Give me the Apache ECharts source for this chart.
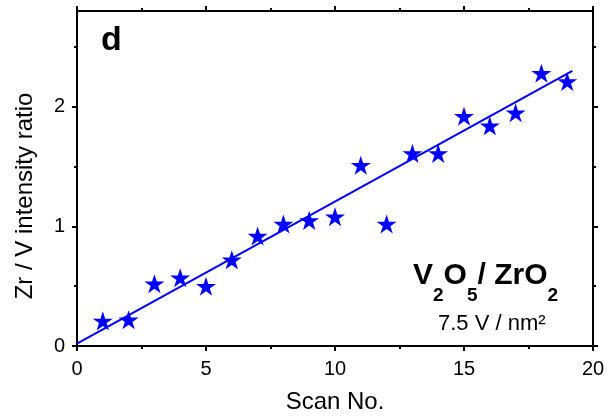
<!DOCTYPE html>
<html>
<head>
<meta charset="utf-8">
<script src="https://cdn.jsdelivr.net/npm/echarts@6/dist/echarts.min.js"></script>
<style>html,body{margin:0;padding:0;background:#fff;}#c{width:609px;height:419px;}</style>
</head>
<body>
<div id="c"></div>
<script>
var scanNo = [1,2,3,4,5,6,7,8,9,10,11,12,13,14,15,16,17,18,19];
var ratio = [0.21,0.22,0.52,0.57,0.50,0.72,0.92,1.02,1.05,1.08,1.51,1.02,1.61,1.61,1.92,1.84,1.95,2.28,2.21];
var fitX = [0, 19.2];
var fitY = [0.02, 2.30];
var yMajor = [0,1,2];
var yMinor = [0.5,1.5,2.5];
var formulaParts = ['V','2','O','5','/ ZrO','2'];
var formulaIsSub = [false,true,false,true,false,true];

var FONT = 'Liberation Sans, Arial, sans-serif';
var BLUE = '#0000ff';
var star = 'path://M100,0 L122.45,69.1 L195.1,69.1 L136.3,111.8 L158.8,180.9 L100,138.2 L41.2,180.9 L63.7,111.8 L4.9,69.1 L77.55,69.1 Z';

var chart = echarts.init(document.getElementById('c'), null, {renderer:'canvas'});
var lineStyle = {color:'#000', width:2};
function xAx(pos, labels) {
  return {
    type:'value', position:pos, min:0, max:20, interval:5,
    axisLine:{show:true, onZero:false, lineStyle:lineStyle},
    axisTick:{show:true, inside:false, length:5, lineStyle:lineStyle},
    minorTick:{show:true, splitNumber:2, length:3, lineStyle:lineStyle},
    splitLine:{show:false},
    axisLabel:{show:labels, fontSize:20, color:'#000', fontFamily:FONT, margin:13},
    name: labels ? 'Scan No.' : '',
    nameLocation:'middle', nameGap:44,
    nameTextStyle:{fontSize:24, color:'#000', fontFamily:FONT}
  };
}
function yAx(pos, vals, len, line, labels) {
  return {
    type:'value', position:pos, min:0, max:2.8, interval:1,
    axisLine:{show:line, onZero:false, lineStyle:lineStyle},
    axisTick:{show:true, inside:false, length:len, lineStyle:lineStyle, customValues:vals},
    splitLine:{show:false},
    axisLabel:{show:labels, fontSize:20, color:'#000', fontFamily:FONT, margin:12, customValues: vals}
  };
}

// formula label pieces, laid out left to right using measured widths
var ctx = document.createElement('canvas').getContext('2d');
var formulaGraphics = [];
var fx = 413;
formulaParts.forEach(function(t, i) {
  var sub = formulaIsSub[i];
  var f = sub ? 'bold 19px ' + FONT : 'bold 30px ' + FONT;
  ctx.font = f;
  formulaGraphics.push({
    type:'text', x:fx, y: sub ? 296 : 276,
    style:{text:t, font:f, fill:'#000', textAlign:'left', textVerticalAlign:'middle'}
  });
  fx += ctx.measureText(t).width;
});

var option = {
  animation:false,
  backgroundColor:'#fff',
  grid:{left:77, right:16, top:11, bottom:66, containLabel:false},
  xAxis:[xAx('bottom', true), xAx('top', false)],
  yAxis:[
    yAx('left', yMajor, 5, true, true),
    yAx('left', yMinor, 3, false, false),
    yAx('right', yMajor, 5, true, false),
    yAx('right', yMinor, 3, false, false)
  ],
  series:[
    {
      type:'line', xAxisIndex:0, yAxisIndex:0,
      data: fitX.map(function(x,i){return [x, fitY[i]];}),
      showSymbol:false, symbol:'none',
      lineStyle:{color:BLUE, width:2}, z:2
    },
    {
      type:'scatter', xAxisIndex:0, yAxisIndex:0,
      data: scanNo.map(function(x,i){return [x, ratio[i]];}),
      symbol: star, symbolSize:20, symbolKeepAspect:true,
      itemStyle:{color:BLUE, opacity:1}, z:3
    }
  ],
  graphic:[
    {type:'text', x:25, y:196, rotation:Math.PI/2,
     style:{text:'Zr / V intensity ratio', font:'24px ' + FONT, fill:'#000', textAlign:'center', textVerticalAlign:'middle'}},
    {type:'text', x:101, y:41,
     style:{text:'d', font:'bold 34px ' + FONT, fill:'#000', textAlign:'left', textVerticalAlign:'middle'}},
    {type:'text', x:438, y:324,
     style:{text:'7.5 V / nm\u00b2', font:'22px ' + FONT, fill:'#000', textAlign:'left', textVerticalAlign:'middle'}}
  ].concat(formulaGraphics)
};
chart.setOption(option);
</script>
</body>
</html>
